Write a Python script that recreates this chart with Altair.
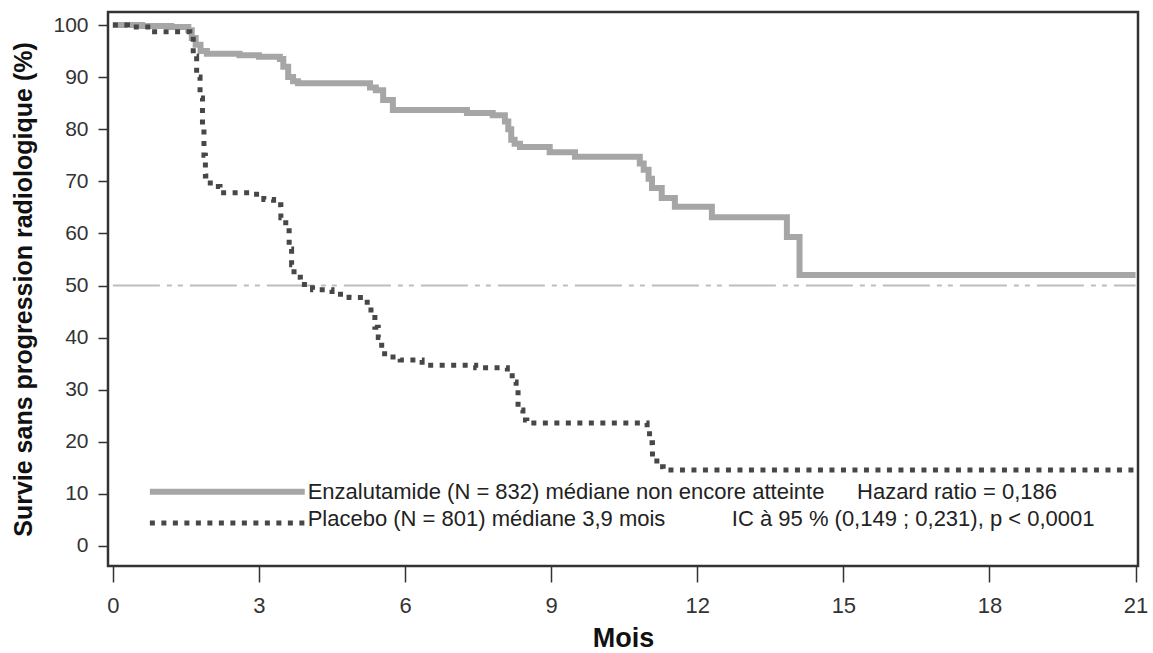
import altair as alt
import pandas as pd

# Kaplan-Meier curves (months, % survival)
enza_t = [0, 0.6, 1.2, 1.55, 1.62, 1.7, 1.8, 1.93, 2.6, 3.0, 3.43, 3.5, 3.6, 3.7, 3.8,
          5.28, 5.4, 5.55, 5.75, 7.27, 7.8, 8.05, 8.12, 8.18, 8.25, 8.36, 8.97, 9.49,
          10.82, 10.9, 11.0, 11.07, 11.27, 11.54, 12.3, 13.84, 14.1, 21.0]
enza_s = [100, 99.8, 99.6, 99.0, 97.5, 96.2, 95.0, 94.5, 94.2, 93.9, 93.5, 92.0, 90.0, 89.2, 88.8,
          88.0, 87.5, 85.6, 83.7, 83.1, 82.7, 81.5, 80.0, 78.0, 77.2, 76.6, 75.6, 74.7,
          73.4, 72.2, 70.5, 68.7, 66.8, 65.1, 63.1, 59.3, 52.0, 52.0]

plac_t = [0, 0.3, 0.8, 1.58, 1.65, 1.72, 1.79, 1.84, 1.87, 1.9, 2.0, 2.2, 2.87, 3.1, 3.3,
          3.45, 3.55, 3.62, 3.67, 3.72, 3.85, 4.1, 4.5, 4.85, 5.15, 5.3, 5.38, 5.45, 5.52,
          5.58, 5.9, 6.35, 7.45, 8.1, 8.2, 8.28, 8.32, 8.42, 8.5, 10.97, 11.02, 11.08,
          11.17, 11.3, 21.0]
plac_s = [100, 99.6, 98.7, 98.0, 94, 90, 86, 80, 75, 71, 69, 67.8, 67.5, 66.5, 65.5,
          63, 60.5, 57, 54, 51.6, 50.2, 49.2, 48.3, 47.7, 46.8, 44.5, 42, 40, 38,
          36.3, 35.7, 34.7, 34.2, 33.2, 31.5, 29.9, 26.1, 24.2, 23.6, 22.3, 19.8, 17.1,
          15.2, 14.6, 14.6]

x_ticks = [0, 3, 6, 9, 12, 15, 18, 21]
y_ticks = [0, 10, 20, 30, 40, 50, 60, 70, 80, 90, 100]

legend_lines = ["Enzalutamide (N = 832) médiane non encore atteinte",
                "Placebo (N = 801) médiane 3,9 mois"]
stat_lines = ["Hazard ratio = 0,186", "IC à 95 % (0,149 ; 0,231), p < 0,0001"]

FONT = "Liberation Sans"
X_DOM = [-0.1, 21.05]
Y_DOM = [-3.84, 102.5]

xs = alt.Scale(domain=X_DOM, nice=False, zero=False)
ys = alt.Scale(domain=Y_DOM, nice=False, zero=False)

x_enc = alt.X("t:Q", scale=xs, axis=alt.Axis(
    values=x_ticks, title="Mois", grid=False, domain=False,
    tickSize=16, tickColor="#333", tickWidth=1.5,
    labelFontSize=22, labelFont=FONT, labelColor="#333", labelPadding=13,
    titleFontSize=27, titleFont=FONT, titleFontWeight="bold", titleColor="#111",
    titlePadding=9))
y_enc = alt.Y("s:Q", scale=ys, axis=alt.Axis(
    values=y_ticks, title="Survie sans progression radiologique (%)", grid=False, domain=False,
    tickSize=10, tickColor="#333", tickWidth=1.5,
    labelFontSize=21, labelFont=FONT, labelColor="#333", labelPadding=10,
    titleFontSize=25, titleFont=FONT, titleFontWeight="bold", titleColor="#111",
    titlePadding=16))

enza_df = pd.DataFrame({"t": enza_t, "s": enza_s})
plac_df = pd.DataFrame({"t": plac_t, "s": plac_s})
ref_df = pd.DataFrame({"t": [0, 21], "s": [50, 50]})

ref = alt.Chart(ref_df).mark_line(color="#bdbdbd", strokeWidth=2,
                                  strokeDash=[47, 7, 5, 6, 5, 7]).encode(x=x_enc, y=y_enc)
enza = alt.Chart(enza_df).mark_line(color="#a6a6a6", strokeWidth=6,
                                    interpolate="step-after").encode(x="t:Q", y="s:Q")
plac = alt.Chart(plac_df).mark_line(color="#474747", strokeWidth=5, strokeDash=[5, 6.5],
                                    interpolate="step-after").encode(x="t:Q", y="s:Q")

leg_enza = alt.Chart(pd.DataFrame({"t": [0.76, 3.94], "s": [10.4, 10.4]})).mark_line(
    color="#a6a6a6", strokeWidth=6).encode(x="t:Q", y="s:Q")
leg_plac = alt.Chart(pd.DataFrame({"t": [0.76, 3.94], "s": [4.4, 4.4]})).mark_line(
    color="#474747", strokeWidth=5, strokeDash=[5, 6.5]).encode(x="t:Q", y="s:Q")

text_df = pd.DataFrame({
    "t": [4.0, 4.0, 15.28, 12.71],
    "s": [10.4, 5.2, 10.4, 5.2],
    "label": [legend_lines[0], legend_lines[1], stat_lines[0], stat_lines[1]],
})
texts = alt.Chart(text_df).mark_text(align="left", baseline="middle", font=FONT,
                                     fontSize=22, color="#222").encode(
    x="t:Q", y="s:Q", text="label:N")

chart = alt.layer(ref, enza, plac, leg_enza, leg_plac, texts).properties(
    width=1030, height=554,
    background="white",
    padding={"left": 108, "top": 12, "right": 15, "bottom": 87},
    autosize=alt.AutoSizeParams(type="none"),
).configure_view(stroke="#333333", strokeWidth=2.5)

chart.save("out.html", embed_options={"renderer": "svg", "actions": False})
